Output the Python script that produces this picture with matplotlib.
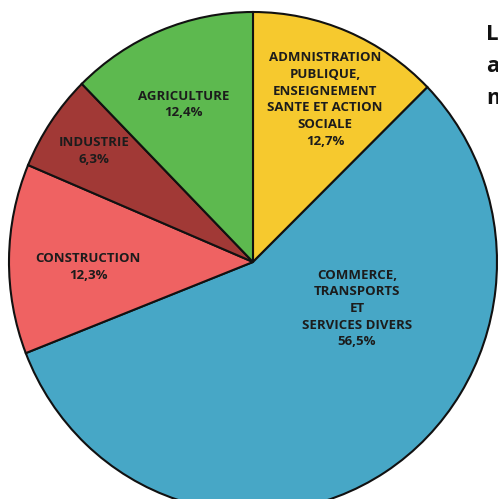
import matplotlib.pyplot as plt

# data
secteurs = ["ADMNISTRATION\nPUBLIQUE,\nENSEIGNEMENT\nSANTE ET ACTION\nSOCIALE",
            "COMMERCE,\nTRANSPORTS\nET\nSERVICES DIVERS",
            "CONSTRUCTION",
            "INDUSTRIE",
            "AGRICULTURE"]
parts = [12.7, 56.5, 12.3, 6.3, 12.4]
couleurs = ["#F6C92E", "#47A7C6", "#EF6262", "#A13936", "#5DB94F"]

# label positions (pie radius = 1)
pos_labels = [(0.295, 0.650), (0.426, -0.186), (-0.676, -0.020),
              (-0.652, 0.444), (-0.283, 0.630)]

plt.rcParams['font.family'] = ['Open Sans', 'DejaVu Sans']

fig = plt.figure(figsize=(4.98, 4.99), dpi=100)
ax = fig.add_axes([0.01807, -0.02605, 0.9799, 1.002])

ax.pie(parts, colors=couleurs, startangle=90, counterclock=False,
       wedgeprops={'edgecolor': '#111111', 'linewidth': 1.5})
ax.set_aspect('auto')
ax.set_xlim(-1, 1)
ax.set_ylim(-1, 1)

for nom, val, (x, y) in zip(secteurs, parts, pos_labels):
    txt = nom + "\n" + ("%.1f%%" % val).replace(".", ",")
    ax.text(x, y, txt, ha='center', va='center', fontsize=9.5,
            fontweight='bold', color='#1c1c1c', linespacing=1.37)

# texte coupé sur la droite
for i, t in enumerate(["L", "a", "m"]):
    fig.text(486 / 498, 1 - (40 + 32 * i) / 499, t, fontsize=16,
             fontweight='bold', color='#111111', ha='left', va='baseline')

fig.savefig("out.png", dpi=100)
